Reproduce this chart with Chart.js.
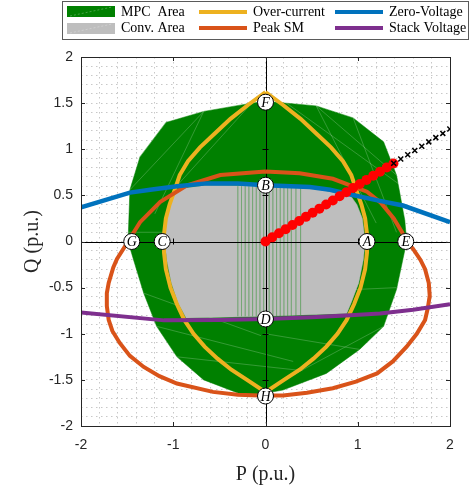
<!DOCTYPE html>
<html>
<head>
<meta charset="utf-8">
<script src="https://cdn.jsdelivr.net/npm/chart.js@4.4.1/dist/chart.umd.min.js"></script>
<style>
  html, body { margin: 0; padding: 0; background: #fff; }
  #wrap { width: 473px; height: 485px; position: relative; }
</style>
</head>
<body>
<div id="wrap"><canvas id="pq" width="473" height="485"></canvas></div>
<script>
// ---- data (P, Q in p.u.) ----
const xTickVals = [-2, -1, 0, 1, 2];
const xTickLabels = ['-2', '-1', '0', '1', '2'];
const yTickVals = [-2, -1.5, -1, -0.5, 0, 0.5, 1, 1.5, 2];
const yTickLabels = ['-2', '-1.5', '-1', '-0.5', '0', '0.5', '1', '1.5', '2'];

// MPC area (green polygon)
const mpcP = [-0.15, 0, 0.55, 0.95, 1.28, 1.42, 1.51, 1.53, 1.49, 1.42, 1.28, 1.02, 0.66, 0.19, -0.2, -0.67, -0.96, -1.18, -1.32, -1.43, -1.49, -1.47, -1.36, -1.08, -0.67, -0.15];
const mpcQ = [1.50, 1.52, 1.47, 1.34, 1.08, 0.72, 0.23, 0, -0.19, -0.52, -0.92, -1.17, -1.43, -1.61, -1.68, -1.50, -1.25, -0.92, -0.56, -0.2, 0, 0.56, 0.92, 1.29, 1.41, 1.50];

// faint triangulation edges inside the MPC area (null = break)
const meshP = [-0.67, -1.47, null, -0.67, -1.2, null, -0.15, -1.0, null, -1.08, -1.36, null, 0.55, 1.42, null, 0.55, 1.2, null, 0.95, 1.42, null, -1.49, -0.95, null, 0.98, 1.42, null, -1.32, -0.05, null, -1.18, 0.3, null, 1.28, 0.2, null, 1.02, 0.0, null, -0.96, 0.4, null, 0.2, 1.45];
const meshQ = [1.41, 0.56, null, 1.41, 0.3, null, 1.50, 0.56, null, 1.29, 0.92, null, 1.47, 0.72, null, 1.47, 0.2, null, 1.34, 0.1, null, 0.1, 0.1, null, -0.52, -0.5, null, -0.56, -1.02, null, -0.92, -1.3, null, -0.92, -1.5, null, -1.17, -1.0, null, -1.25, -1.4, null, 1.52, 0.62];

// Conventional area (grey polygon)
const convP = [-1.0, -0.64, 0, 0.48, 0.92, 0.99, 1.05, 1.08, 1.06, 1.01, 0.93, 0.88, 0, -0.86, -0.95, -1.02, -1.07, -1.09, -1.07, -1.03, -1.0];
const convQ = [0.56, 0.61, 0.60, 0.58, 0.50, 0.40, 0.25, 0, -0.2, -0.45, -0.66, -0.78, -0.81, -0.83, -0.66, -0.45, -0.2, 0, 0.25, 0.45, 0.56];

// faint vertical edges inside the grey area
const stripeP = [-0.3, -0.3, null, -0.26, -0.26, null, -0.22, -0.22, null, -0.18, -0.18, null, -0.14, -0.14, null, -0.1, -0.1, null, -0.06, -0.06, null, -0.02, -0.02, null, 0.04, 0.04, null, 0.08, 0.08, null, 0.12, 0.12, null, 0.16, 0.16, null, 0.2, 0.2, null, 0.24, 0.24, null, 0.28, 0.28, null, 0.33, 0.33, null, 0.38, 0.38];
const stripeQ = [0.6, -0.81, null, 0.6, -0.81, null, 0.6, -0.81, null, 0.6, -0.81, null, 0.6, -0.81, null, 0.6, -0.81, null, 0.6, -0.81, null, 0.6, -0.81, null, 0.6, -0.81, null, 0.6, -0.81, null, 0.6, -0.81, null, 0.6, -0.81, null, 0.59, -0.81, null, 0.59, -0.81, null, 0.59, -0.81, null, 0.59, -0.81, null, 0.59, -0.81];

// Over-current limit
const ocP = [0, 0.19, 0.38, 0.55, 0.71, 0.84, 0.93, 0.98, 1.04, 1.08, 1.10, 1.10, 1.08, 1.03, 0.96, 0.88, 0.78, 0.66, 0.52, 0.37, 0.20, 0.05, 0, -0.05, -0.20, -0.37, -0.52, -0.66, -0.78, -0.88, -0.96, -1.03, -1.08, -1.10, -1.10, -1.08, -1.04, -0.98, -0.93, -0.84, -0.71, -0.55, -0.38, -0.19, 0];
const ocQ = [1.62, 1.48, 1.33, 1.17, 1.02, 0.87, 0.72, 0.57, 0.40, 0.25, 0.08, -0.12, -0.30, -0.50, -0.68, -0.85, -1.00, -1.14, -1.27, -1.39, -1.50, -1.60, -1.65, -1.60, -1.50, -1.39, -1.27, -1.14, -1.00, -0.85, -0.68, -0.50, -0.30, -0.12, 0.08, 0.25, 0.40, 0.57, 0.72, 0.87, 1.02, 1.17, 1.33, 1.48, 1.62];

// Peak SM voltage limit
const smP = [0, 0.37, 0.73, 1.10, 1.25, 1.39, 1.48, 1.53, 1.60, 1.68, 1.73, 1.77, 1.78, 1.76, 1.73, 1.64, 1.53, 1.38, 1.21, 0.98, 0.73, 0.45, 0.19, -0.06, -0.30, -0.57, -0.96, -1.15, -1.32, -1.47, -1.58, -1.66, -1.70, -1.72, -1.72, -1.70, -1.65, -1.61, -1.49, -1.36, -1.14, -0.85, -0.49, 0];
const smQ = [0.76, 0.74, 0.68, 0.54, 0.42, 0.25, 0.10, 0, -0.08, -0.20, -0.30, -0.45, -0.59, -0.72, -0.85, -1.00, -1.14, -1.30, -1.43, -1.52, -1.59, -1.64, -1.67, -1.67, -1.66, -1.63, -1.54, -1.46, -1.36, -1.24, -1.10, -0.97, -0.85, -0.70, -0.56, -0.45, -0.28, -0.19, 0, 0.21, 0.43, 0.61, 0.72, 0.76];

// Zero-voltage and stack-voltage limits
const zvP = [-2, -1.47, -1.25, -0.96, -0.64, -0.3, 0, 0.48, 0.7, 0.92, 1.24, 1.49, 2];
const zvQ = [0.37, 0.53, 0.56, 0.60, 0.63, 0.63, 0.61, 0.59, 0.56, 0.51, 0.44, 0.39, 0.21];
const svP = [-2, -1.1, -0.5, 0, 0.5, 0.92, 1.24, 1.6, 2];
const svQ = [-0.77, -0.855, -0.85, -0.84, -0.82, -0.80, -0.78, -0.74, -0.68];

// operating trajectory: feasible (red) and infeasible (black x)
const okP = [0, 0.073, 0.146, 0.219, 0.292, 0.365, 0.438, 0.511, 0.584, 0.657, 0.730, 0.803, 0.876, 0.949, 1.022, 1.095, 1.168, 1.241, 1.314, 1.387];
const okQ = [0, 0.045, 0.089, 0.134, 0.178, 0.223, 0.267, 0.312, 0.356, 0.401, 0.445, 0.490, 0.534, 0.579, 0.623, 0.668, 0.712, 0.757, 0.802, 0.846];
const badP = [1.39, 1.466, 1.542, 1.618, 1.694, 1.77, 1.846, 1.922, 1.998];
const badQ = [0.848, 0.894, 0.941, 0.987, 1.033, 1.080, 1.126, 1.172, 1.219];

// circled point labels
const ptNames = ['F', 'B', 'D', 'H', 'G', 'C', 'A', 'E'];
const ptP = [0, 0, 0, 0, -1.45, -1.12, 1.10, 1.52];
const ptQ = [1.51, 0.61, -0.84, -1.675, 0, 0, 0, 0];

const toXY = (xs, ys) => xs.map((x, i) => (x === null ? { x: null, y: null } : { x: x, y: ys[i] }));

const GREEN = '#008000', GREY = '#bebebe';
const YELLOW = '#EDB120', ORANGE = '#D95319', BLUE = '#0072BD', PURPLE = '#7E2F8E';
const AXC = '#262626';

function near(v, list) { return list.findIndex(t => Math.abs(t - v) < 1e-6); }

// frame, inward ticks, origin axes (drawn right after the grey area stripes)
const axesPlugin = {
  id: 'axesPlugin',
  afterDatasetDraw(chart, args) {
    if (chart.data.datasets[args.index].label !== 'stripes') return;
    const ctx = chart.ctx, xs = chart.scales.x, ys = chart.scales.y;
    const x0 = xs.getPixelForValue(0), y0 = ys.getPixelForValue(0);
    const a = chart.chartArea;
    ctx.save();
    ctx.strokeStyle = '#000';
    ctx.lineWidth = 1;
    ctx.beginPath();
    ctx.moveTo(a.left, Math.round(y0) + 0.5); ctx.lineTo(a.right, Math.round(y0) + 0.5);
    ctx.moveTo(Math.round(x0) + 0.5, a.top); ctx.lineTo(Math.round(x0) + 0.5, a.bottom);
    xTickVals.forEach(v => {
      const px = Math.round(xs.getPixelForValue(v)) + 0.5;
      ctx.moveTo(px, y0 - 3); ctx.lineTo(px, y0 + 3);
    });
    yTickVals.forEach(v => {
      const py = Math.round(ys.getPixelForValue(v)) + 0.5;
      ctx.moveTo(x0 - 3, py); ctx.lineTo(x0 + 3, py);
    });
    ctx.stroke();
    ctx.restore();
  },
  afterDatasetsDraw(chart) {
    const ctx = chart.ctx, xs = chart.scales.x, ys = chart.scales.y;
    const a = chart.chartArea;
    ctx.save();
    // circled labels
    ptNames.forEach((n, i) => {
      const px = xs.getPixelForValue(ptP[i]), py = ys.getPixelForValue(ptQ[i]);
      ctx.beginPath();
      ctx.arc(px, py, 8, 0, Math.PI * 2);
      ctx.fillStyle = '#fff';
      ctx.fill();
      ctx.lineWidth = 1;
      ctx.strokeStyle = '#000';
      ctx.stroke();
      ctx.fillStyle = '#000';
      ctx.font = 'italic 14px "Liberation Serif"';
      ctx.textAlign = 'center';
      ctx.textBaseline = 'middle';
      ctx.fillText(n, px, py + 1);
    });
    // box
    ctx.strokeStyle = AXC;
    ctx.lineWidth = 1;
    ctx.strokeRect(a.left + 0.5, a.top + 0.5, a.right - a.left, a.bottom - a.top);
    ctx.beginPath();
    xTickVals.forEach(v => {
      const px = Math.round(xs.getPixelForValue(v)) + 0.5;
      ctx.moveTo(px, a.bottom); ctx.lineTo(px, a.bottom - 4);
      ctx.moveTo(px, a.top); ctx.lineTo(px, a.top + 4);
    });
    yTickVals.forEach(v => {
      const py = Math.round(ys.getPixelForValue(v)) + 0.5;
      ctx.moveTo(a.left, py); ctx.lineTo(a.left + 4, py);
      ctx.moveTo(a.right, py); ctx.lineTo(a.right - 4, py);
    });
    ctx.stroke();
    ctx.restore();
  },
  afterDraw(chart) {
    // legend box at the top
    const ctx = chart.ctx;
    ctx.save();
    ctx.fillStyle = '#fff';
    ctx.fillRect(62, 1, 406, 38);
    ctx.strokeStyle = '#5a5a5a';
    ctx.lineWidth = 1;
    ctx.strokeRect(62.5, 1.5, 406, 38);
    ctx.font = '14px "Liberation Serif"';
    ctx.textBaseline = 'middle';
    ctx.textAlign = 'left';
    const rows = [12, 28];
    // patches
    ctx.fillStyle = GREEN; ctx.fillRect(67, 6, 48, 11);
    ctx.fillStyle = GREY; ctx.fillRect(67, 23, 48, 11);
    ctx.strokeStyle = 'rgba(255,255,255,0.45)';
    ctx.lineWidth = 0.6;
    ctx.setLineDash([2, 2]);
    ctx.beginPath();
    ctx.moveTo(70, 16); ctx.lineTo(112, 7);
    ctx.moveTo(70, 33); ctx.lineTo(112, 24);
    ctx.stroke();
    ctx.setLineDash([]);
    const lines = [[YELLOW, 199, rows[0]], [ORANGE, 199, rows[1]], [BLUE, 335, rows[0]], [PURPLE, 335, rows[1]]];
    ctx.lineWidth = 4;
    lines.forEach(l => {
      ctx.strokeStyle = l[0];
      ctx.beginPath(); ctx.moveTo(l[1], l[2]); ctx.lineTo(l[1] + 48, l[2]); ctx.stroke();
    });
    ctx.fillStyle = '#000';
    ctx.fillText('MPC  Area', 121, rows[0]);
    ctx.fillText('Conv. Area', 121, rows[1]);
    ctx.fillText('Over-current', 253, rows[0]);
    ctx.fillText('Peak SM', 253, rows[1]);
    ctx.fillText('Zero-Voltage', 389, rows[0]);
    ctx.fillText('Stack Voltage', 389, rows[1]);
    ctx.restore();
  }
};

const lineDs = (label, xs, ys, color, width, order) => ({
  label: label, data: toXY(xs, ys), showLine: true, borderColor: color,
  borderWidth: width, pointRadius: 0, tension: 0, fill: false, order: order
});

new Chart(document.getElementById('pq'), {
  type: 'scatter',
  data: {
    datasets: [
      { label: 'MPC Area', data: toXY(mpcP, mpcQ), showLine: true, fill: 'shape',
        backgroundColor: GREEN, borderColor: GREEN, borderWidth: 0.5, pointRadius: 0, tension: 0, order: 22 },
      { label: 'mesh', data: toXY(meshP, meshQ), showLine: true, spanGaps: false,
        borderColor: 'rgba(255,255,255,0.3)', borderWidth: 0.7, pointRadius: 0, tension: 0, order: 21 },
      { label: 'Conv. Area', data: toXY(convP, convQ), showLine: true, fill: 'shape',
        backgroundColor: GREY, borderColor: GREY, borderWidth: 0.5, pointRadius: 0, tension: 0, order: 20 },
      { label: 'stripes', data: toXY(stripeP, stripeQ), showLine: true, spanGaps: false,
        borderColor: 'rgba(60,150,60,0.3)', borderWidth: 0.8, pointRadius: 0, tension: 0, order: 19 },
      lineDs('Over-current', ocP, ocQ, YELLOW, 4, 10),
      lineDs('Peak SM', smP, smQ, ORANGE, 4, 9),
      lineDs('Zero-Voltage', zvP, zvQ, BLUE, 4.5, 8),
      lineDs('Stack Voltage', svP, svQ, PURPLE, 4, 7),
      { label: 'feasible', data: toXY(okP, okQ), pointRadius: 5, pointBackgroundColor: '#ff0000',
        pointBorderColor: '#ff0000', pointBorderWidth: 0, order: 3 },
      { label: 'infeasible', data: toXY(badP, badQ), pointStyle: 'crossRot', pointRadius: 3.5,
        pointBorderColor: '#000', pointBorderWidth: 1.5, order: 2 }
    ]
  },
  options: {
    responsive: false,
    animation: false,
    devicePixelRatio: 1,
    layout: { padding: { top: 57, right: 23, left: 0, bottom: 0 } },
    plugins: { legend: { display: false }, tooltip: { enabled: false } },
    scales: {
      x: {
        type: 'linear', min: -2, max: 2,
        afterFit: s => { s.height = 59; },
        ticks: {
          stepSize: 0.2, autoSkip: false, maxRotation: 0, padding: 11,
          color: AXC, font: { family: '"Liberation Sans"', size: 14 },
          callback: v => { const k = near(v, xTickVals); return k < 0 ? '' : xTickLabels[k]; }
        },
        grid: { color: '#c8c8c8', lineWidth: 1, drawTicks: false },
        border: { display: false, dash: [1.5, 3.5] },
        title: { display: true, text: 'P (p.u.)', color: AXC,
          font: { family: '"Liberation Serif"', size: 20, lineHeight: 1 }, padding: { top: 0, bottom: 0 } }
      },
      y: {
        type: 'linear', min: -2, max: 2,
        afterFit: s => { s.width = 81; },
        ticks: {
          stepSize: 0.1, autoSkip: false, padding: 8,
          color: AXC, font: { family: '"Liberation Sans"', size: 14 },
          callback: v => { const k = near(v, yTickVals); return k < 0 ? '' : yTickLabels[k]; }
        },
        grid: { color: '#c8c8c8', lineWidth: 1, drawTicks: false },
        border: { display: false, dash: [1.5, 3.5] },
        title: { display: true, text: 'Q (p.u.)', color: AXC,
          font: { family: '"Liberation Serif"', size: 20, lineHeight: 1 }, padding: { top: 23, bottom: 0 } }
      }
    }
  },
  plugins: [axesPlugin]
});
</script>
</body>
</html>
